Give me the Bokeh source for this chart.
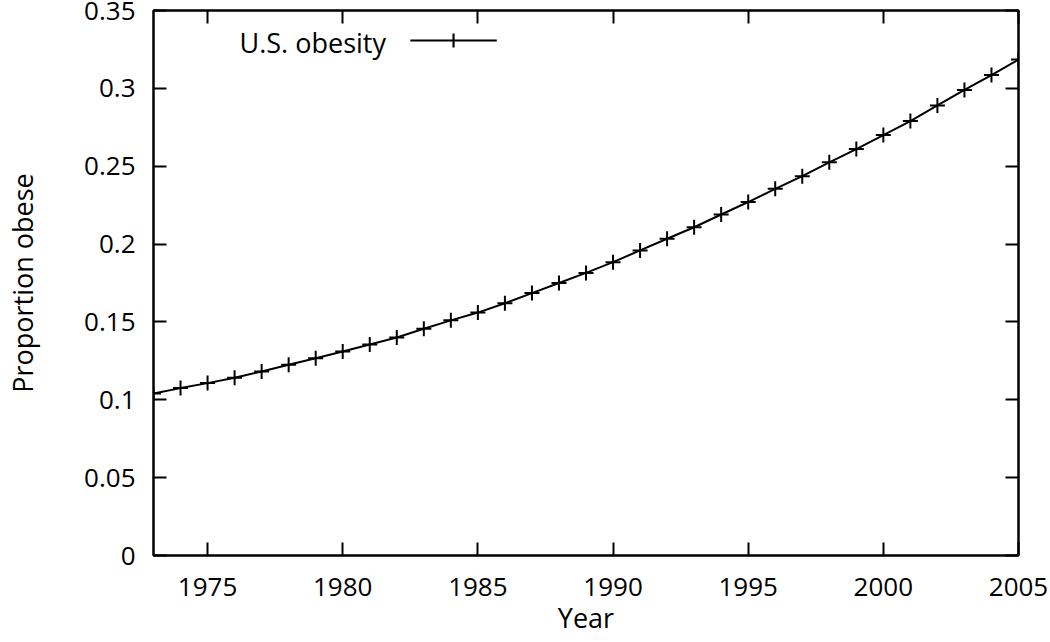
from bokeh.plotting import figure
from bokeh.models import Range1d, FixedTicker, LinearAxis, Label, BoxAnnotation
from bokeh.embed import file_html
from bokeh.resources import INLINE

years = list(range(1973, 2006))
obesity = [0.104, 0.1075, 0.1107, 0.1141, 0.1182, 0.1225, 0.1267, 0.131,
           0.1355, 0.140, 0.1456, 0.151, 0.156, 0.162, 0.1685, 0.175,
           0.1815, 0.1884, 0.1959, 0.2034, 0.2108, 0.219, 0.227, 0.2355,
           0.2436, 0.2525, 0.261, 0.270, 0.279, 0.289, 0.299, 0.3085, 0.3185]

x_ticks = [1975, 1980, 1985, 1990, 1995, 2000, 2005]
x_tick_labels = ["1975", "1980", "1985", "1990", "1995", "2000", "2005"]
y_ticks = [0, 0.05, 0.1, 0.15, 0.2, 0.25, 0.3, 0.35]
y_tick_labels = ["0", "0.05", "0.1", "0.15", "0.2", "0.25", "0.3", "0.35"]
series_name = "U.S. obesity"
x_title = "Year"
y_title = "Proportion obese"

FONT = "Open Sans"
FS = "26px"
FS_TITLE = "27px"

p = figure(width=1050, height=642, output_backend="svg", toolbar_location=None,
           x_range=Range1d(1973, 2005), y_range=Range1d(0, 0.35),
           min_border_left=153, min_border_right=32, min_border_top=10,
           min_border_bottom=87, x_axis_label=x_title, y_axis_label=y_title)

p.xgrid.visible = False
p.ygrid.visible = False
p.outline_line_color = "black"
p.outline_line_width = 2
p.outline_line_alpha = 1.0
p.background_fill_color = "white"
p.border_fill_color = "white"

def style_axis(ax, ticks, labels, show_labels=True):
    ax.ticker = FixedTicker(ticks=ticks)
    ax.major_label_overrides = {t: l for t, l in zip(ticks, labels)}
    ax.major_tick_in = 13
    ax.major_tick_out = 0
    ax.minor_tick_in = 0
    ax.minor_tick_out = 0
    ax.major_tick_line_color = "black"
    ax.major_tick_line_width = 2
    ax.axis_line_color = "black"
    ax.axis_line_width = 2
    ax.major_label_text_font = FONT
    ax.major_label_text_font_size = FS
    ax.major_label_text_color = "black"
    ax.axis_label_text_font = FONT
    ax.axis_label_text_font_size = FS_TITLE
    ax.axis_label_text_font_style = "normal"
    ax.axis_label_text_color = "black"
    if not show_labels:
        ax.major_label_text_font_size = "0px"
        ax.major_label_text_alpha = 0

style_axis(p.xaxis[0], x_ticks, x_tick_labels)
style_axis(p.yaxis[0], y_ticks, y_tick_labels)
p.xaxis[0].major_label_standoff = 22
p.xaxis[0].axis_label_standoff = 0
p.yaxis[0].major_label_standoff = 18
p.yaxis[0].axis_label_standoff = 40

top = LinearAxis()
style_axis(top, x_ticks, x_tick_labels, show_labels=False)
top.major_label_standoff = 0
right = LinearAxis()
style_axis(right, y_ticks, y_tick_labels, show_labels=False)
right.major_label_standoff = 0
p.add_layout(top, "above")
p.add_layout(right, "right")

p.line(years, obesity, line_color="black", line_width=2)
p.scatter(years, obesity, marker="cross", size=15, line_color="black", line_width=2)

# gnuplot-style key: label on the left, sample on the right
p.add_layout(Label(x=1981.6, y=0.3295, text=series_name, text_align="right",
                   text_baseline="middle", text_font=FONT, text_font_size=FS_TITLE,
                   text_color="black"))
p.add_layout(BoxAnnotation(left=1982.5, right=1985.7, bottom=0.3301, top=0.3314,
                           fill_color="black", fill_alpha=1, line_alpha=0))
p.add_layout(BoxAnnotation(left=1984.06, right=1984.14, bottom=0.3262, top=0.3352,
                           fill_color="black", fill_alpha=1, line_alpha=0))

open("out.html", "w").write(file_html(p, INLINE))
